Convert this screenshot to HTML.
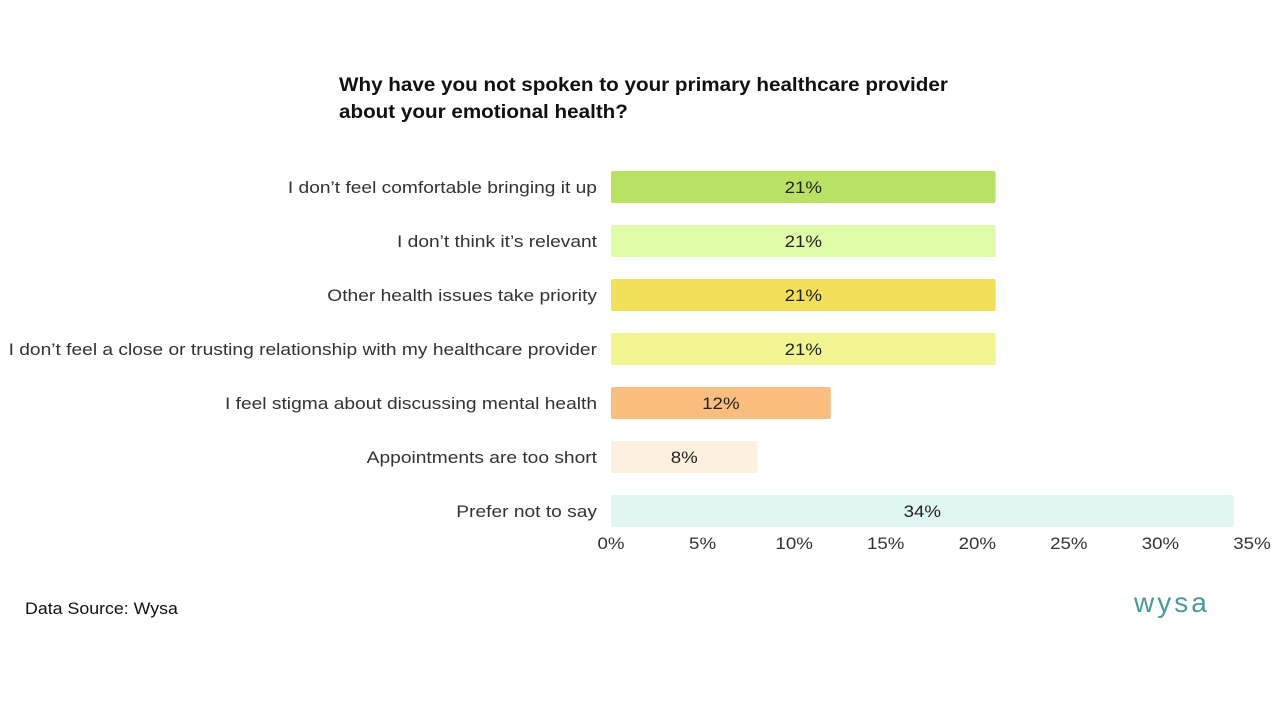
<!DOCTYPE html>
<html><head><meta charset="utf-8"><style>
body{margin:0;width:1280px;height:720px;background:#fff;font-family:"Liberation Sans",sans-serif;overflow:hidden}
#c{position:absolute;left:0;top:0}
</style></head><body>
<svg id="c" width="1280" height="720">
<text class="sc" data-f="1.086" x="339" y="91" font-size="19" font-weight="bold" fill="#111">Why have you not spoken to your primary healthcare provider</text>
<text class="sc" data-f="1.086" x="339" y="118" font-size="19" font-weight="bold" fill="#111">about your emotional health?</text>
<g id="bars"></g>
<g id="xaxis"></g>
<text class="sc" data-f="1.045" x="25" y="614" font-size="17" fill="#111">Data Source: Wysa</text>
<text x="1134" y="612" font-size="28" fill="#4a9a9a" letter-spacing="3">wysa</text>
</svg>
<script>
const categories=["I don\u2019t feel comfortable bringing it up","I don\u2019t think it\u2019s relevant","Other health issues take priority","I don\u2019t feel a close or trusting relationship with my healthcare provider","I feel stigma about discussing mental health","Appointments are too short","Prefer not to say"];
const values=[21,21,21,21,12,8,34];
const colors=["#b9e264","#dffca6","#f0e05a","#f3f592","#f9be7e","#fdf0df","#dff6f3"];
const ticks=[0,5,10,15,20,25,30,35];
const NS="http://www.w3.org/2000/svg";
const x0=611,x1=1252,xmax=35;
const xs=v=>x0+(x1-x0)*v/xmax;
const ys=i=>171+i*54;
const bh=32;
const bars=document.getElementById('bars');
function mk(t,a){const e=document.createElementNS(NS,t);for(const k in a)e.setAttribute(k,a[k]);return e;}
categories.forEach((c,i)=>{
 const r=mk('rect',{x:x0,y:ys(i),width:xs(values[i])-x0,height:bh,fill:colors[i],rx:2});
 
 
 bars.appendChild(r);
 const l=mk('text',{x:597,y:ys(i)+bh/2+6,'font-size':17,fill:'#333','text-anchor':'end','class':'sc','data-f':'1.128'});
 l.textContent=c;
 
 
 bars.appendChild(l);
 const v=mk('text',{x:(x0+xs(values[i]))/2,y:ys(i)+bh/2+6,'font-size':17,fill:'#222','text-anchor':'middle','class':'sc','data-f':'1.1'});
 v.textContent=values[i]+'%';
 
 
 bars.appendChild(v);
});
const xa=document.getElementById('xaxis');
ticks.forEach(t=>{
 const e=mk('text',{x:xs(t),y:549,'font-size':17,fill:'#333','text-anchor':'middle','class':'sc','data-f':'1.1'});
 e.textContent=t+'%';
 
 
 xa.appendChild(e);
});
document.querySelectorAll('.sc').forEach(e=>{
 const w=e.getComputedTextLength();
 e.setAttribute('textLength',(w*parseFloat(e.getAttribute('data-f'))).toFixed(1));
 e.setAttribute('lengthAdjust','spacingAndGlyphs');
});
</script>
</body></html>
